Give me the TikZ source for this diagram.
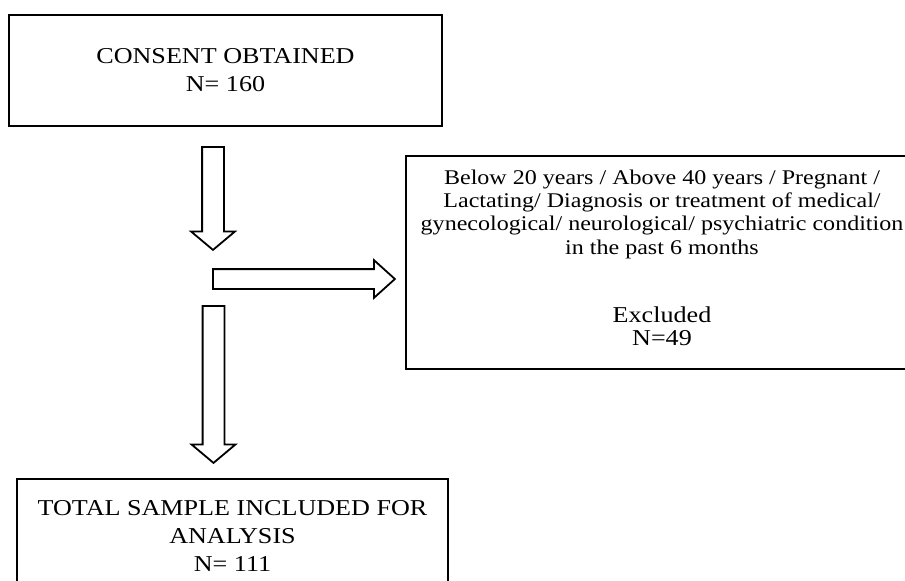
\documentclass[tikz,border=0pt]{standalone}
\usepackage{fontspec}
\setmainfont[FakeStretch=1.15]{Liberation Serif}
\usetikzlibrary{shapes.arrows}

\tikzset{
  box/.style={draw, line width=2.4pt, align=center, inner sep=0pt,
    font=\fontsize{22.7}{28}\selectfont},
  downarrow/.style={single arrow, draw, line width=1.8pt, rotate=-90, anchor=tail,
    inner xsep=0pt, inner ysep=10pt, minimum width=42pt, single arrow head extend=11pt,
    single arrow tip angle=100},
  rightarrow/.style={single arrow, draw, line width=1.8pt, anchor=tail,
    inner xsep=0pt, inner ysep=9pt, minimum width=36pt, single arrow head extend=9pt,
    single arrow tip angle=84}
}

\begin{document}
\begin{tikzpicture}[x=1pt,y=-1pt]
  \clip (0,0) rectangle (905,581);
  \node [box, minimum width=433pt, minimum height=111pt] (consent) at (225.5,70.5)
    {CONSENT OBTAINED\\N= 160};
  \node [box, minimum width=560pt, minimum height=213pt, anchor=west] (excluded) at (405,262.5) {};
  \node [align=center, inner sep=0pt, anchor=north, font=\fontsize{20.9}{23.3}\selectfont]
    (criteria) at (662,169.5)
    {Below 20 years / Above 40 years / Pregnant /\\
     Lactating/ Diagnosis or treatment of medical/\\
     gynecological/ neurological/ psychiatric condition\\
     in the past 6 months};
  \node [align=center, inner sep=0pt, anchor=north, font=\fontsize{22.7}{23}\selectfont]
    (excltext) at (662,306.5) {Excluded\\N=49};
  \node [box, minimum width=431pt, minimum height=114pt] (total) at (232.5,536)
    {TOTAL SAMPLE INCLUDED FOR\\ANALYSIS\\N= 111};
  \node [downarrow, minimum height=103pt] (arr1) at (213,146) {};
  \node [rightarrow, minimum height=182pt] (arr2) at (212,279) {};
  \node [downarrow, minimum height=157pt] (arr3) at (213.5,305) {};
\end{tikzpicture}
\end{document}
